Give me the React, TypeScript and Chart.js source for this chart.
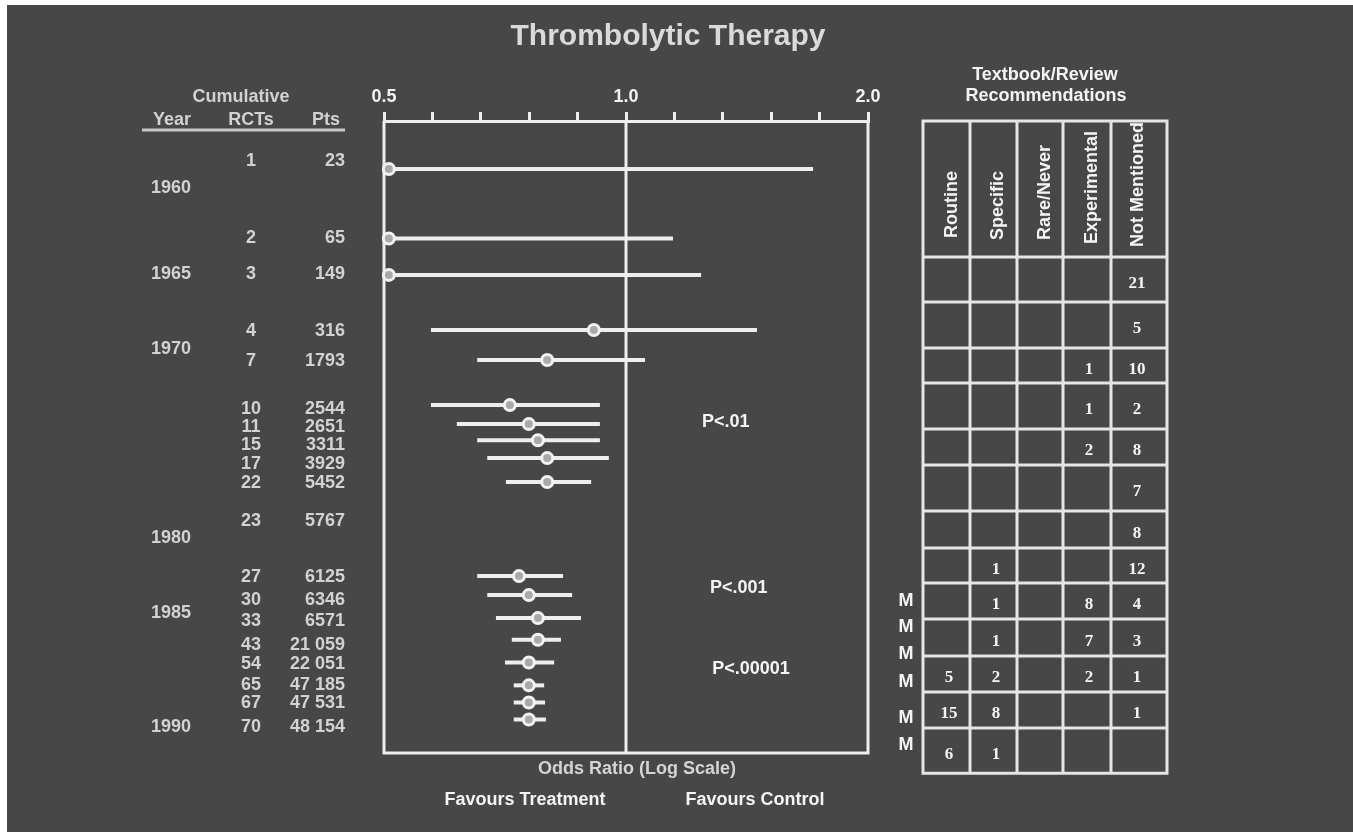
import React, { useEffect, useRef } from 'react';
import { Chart, registerables } from 'chart.js';

Chart.register(...registerables);

// ---------- data ----------
const studyRCTs = ['1', '2', '3', '4', '7', '10', '11', '15', '17', '22', '23', '27', '30', '33', '43', '54', '65', '67', '70'];
const studyPts = ['23', '65', '149', '316', '1793', '2544', '2651', '3311', '3929', '5452', '5767', '6125', '6346', '6571', '21 059', '22 051', '47 185', '47 531', '48 154'];
const textRow = [2.1, 6.16, 8.05, 11.05, 12.63, 15.16, 16.1, 17.05, 18.05, 19.05, 21.05, 24.0, 25.2, 26.3, 27.58, 28.58, 29.68, 30.63, 31.9];
const oddsRatio = [0.507, 0.507, 0.507, 0.912, 0.798, 0.717, 0.757, 0.777, 0.798, 0.798, null, 0.736, 0.757, 0.777, 0.777, 0.757, 0.757, 0.757, 0.757];
const ciLower = [0.5, 0.5, 0.5, 0.572, 0.653, 0.572, 0.616, 0.653, 0.672, 0.709, null, 0.653, 0.672, 0.689, 0.721, 0.707, 0.725, 0.725, 0.725];
const ciUpper = [1.709, 1.144, 1.24, 1.455, 1.056, 0.928, 0.928, 0.928, 0.952, 0.905, null, 0.835, 0.857, 0.879, 0.83, 0.814, 0.791, 0.793, 0.795];
const plotRow = [2.53, 6.18, 8.1, 11.0, 12.58, 14.95, 15.95, 16.8, 17.74, 19.0, null, 23.95, 24.95, 26.16, 27.3, 28.5, 29.7, 30.6, 31.5];

const yearLabels = ['1960', '1965', '1970', '1980', '1985', '1990'];
const yearRow = [3.53, 8.05, 12.0, 21.95, 25.9, 31.9];

const pLabels = ['P<.01', 'P<.001', 'P<.00001'];
const pRow = [15.84, 24.58, 28.84];
const pOdds = [1.243, 1.272, 1.28];

const axisTicks = [0.5, 0.574, 0.66, 0.758, 0.871, 1.0, 1.149, 1.32, 1.516, 1.741, 2.0];
const axisTickLabels = ['0.5', '', '', '', '', '1.0', '', '', '', '', '2.0'];

const recColumns = ['Routine', 'Specific', 'Rare/Never', 'Experimental', 'Not Mentioned'];
const recRoutine = [null, null, null, null, null, null, null, null, null, null, 5, 15, 6];
const recSpecific = [null, null, null, null, null, null, null, 1, 1, 1, 2, 8, 1];
const recRareNever = [null, null, null, null, null, null, null, null, null, null, null, null, null];
const recExperimental = [null, null, 1, 1, 2, null, null, null, 8, 7, 2, null, null];
const recNotMentioned = [21, 5, 10, 2, 8, 7, 8, 12, 4, 3, 1, 1, null];
const recRowEdges = [0, 7.16, 9.53, 11.95, 13.79, 16.21, 18.1, 20.53, 22.47, 24.32, 26.21, 28.16, 30.05, 31.95, 34.32];
const metaRow = [25.26, 26.63, 28.05, 29.53, 31.42, 32.84];

// ---------- layout / style ----------
const OX = 7;
const OY = 5;
const W = 1346;
const H = 827;
const BG = '#474747';
const LINE = '#eeeeee';
const SANS = '"Liberation Sans", Arial, Helvetica, sans-serif';
const SERIF = '"Liberation Serif", "Times New Roman", serif';
const colEdges = [923, 970, 1017, 1063, 1111, 1167];
const colHeadX = [952, 998, 1045, 1092, 1138];
const colHeadBottom = [238, 240, 240, 244, 247];
const colNumX = [949, 996, 1042, 1089, 1137];

export default function App() {
  const ref = useRef<HTMLCanvasElement>(null);

  useEffect(() => {
    const canvas = ref.current;
    if (!canvas) return;

    const pts: { x: number; y: number }[] = [];
    oddsRatio.forEach((v, i) => {
      if (v != null && plotRow[i] != null) pts.push({ x: v, y: plotRow[i] as number });
    });

    const text = (ctx: CanvasRenderingContext2D, s: string, x: number, y: number, size: number, color: string, align: CanvasTextAlign = 'center', family = SANS) => {
      ctx.font = `bold ${size}px ${family}`;
      ctx.fillStyle = color;
      ctx.textAlign = align;
      ctx.textBaseline = 'middle';
      ctx.fillText(s, x, y);
    };

    const overlay = {
      id: 'overlay',
      beforeDatasetsDraw(chart: any) {
        const { ctx, chartArea, scales } = chart;
        const xs = scales.x;
        const ys = scales.y;
        ctx.save();
        ctx.strokeStyle = LINE;
        ctx.lineWidth = 3;
        // box
        const xl = xs.getPixelForValue(0.5);
        const xr = xs.getPixelForValue(2.0);
        const x1 = xs.getPixelForValue(1.0);
        ctx.beginPath();
        ctx.moveTo(xl, chartArea.top);
        ctx.lineTo(xl, chartArea.bottom);
        ctx.lineTo(xr, chartArea.bottom);
        ctx.lineTo(xr, chartArea.top);
        ctx.moveTo(x1, chartArea.top);
        ctx.lineTo(x1, chartArea.bottom);
        ctx.stroke();
        // CI bars
        ctx.lineWidth = 4;
        oddsRatio.forEach((v, i) => {
          if (v == null) return;
          const py = ys.getPixelForValue(plotRow[i]);
          ctx.beginPath();
          ctx.moveTo(xs.getPixelForValue(ciLower[i]), py);
          ctx.lineTo(xs.getPixelForValue(ciUpper[i]), py);
          ctx.stroke();
        });
        ctx.restore();
      },
      afterDraw(chart: any) {
        const { ctx, scales } = chart;
        const xs = scales.x;
        const ys = scales.y;
        ctx.save();
        // title
        text(ctx, 'Thrombolytic Therapy', 668 - OX, 37 - OY, 30, '#dadada');
        // left table header
        const grey = '#d2d2d2';
        text(ctx, 'Cumulative', 241 - OX, 97 - OY, 18, grey);
        text(ctx, 'Year', 172 - OX, 120 - OY, 18, grey);
        text(ctx, 'RCTs', 251 - OX, 120 - OY, 18, grey);
        text(ctx, 'Pts', 326 - OX, 120 - OY, 18, grey);
        ctx.strokeStyle = '#c8c8c8';
        ctx.lineWidth = 3;
        ctx.beginPath();
        ctx.moveTo(142 - OX, 130 - OY);
        ctx.lineTo(345 - OX, 130 - OY);
        ctx.stroke();
        // left table rows
        studyRCTs.forEach((r, i) => {
          const py = ys.getPixelForValue(textRow[i]);
          text(ctx, r, 251 - OX, py, 18, grey);
          text(ctx, studyPts[i], 345 - OX, py, 18, grey, 'right');
        });
        yearLabels.forEach((yl, i) => {
          text(ctx, yl, 151 - OX, ys.getPixelForValue(yearRow[i]), 18, grey, 'left');
        });
        // p values
        pLabels.forEach((p, i) => {
          text(ctx, p, xs.getPixelForValue(pOdds[i]), ys.getPixelForValue(pRow[i]), 18, '#f4f4f4', 'left');
        });
        // bottom labels
        text(ctx, 'Odds Ratio (Log Scale)', 637 - OX, 769 - OY, 18, '#d4d4d4');
        text(ctx, 'Favours Treatment', 525 - OX, 800 - OY, 18, '#f4f4f4');
        text(ctx, 'Favours Control', 755 - OX, 800 - OY, 18, '#f4f4f4');
        // right table header
        text(ctx, 'Textbook/Review', 1045 - OX, 75 - OY, 18, '#f4f4f4');
        text(ctx, 'Recommendations', 1046 - OX, 96 - OY, 18, '#f4f4f4');
        // right table grid
        const top = ys.getPixelForValue(recRowEdges[0]);
        const bot = ys.getPixelForValue(recRowEdges[recRowEdges.length - 1]);
        ctx.strokeStyle = '#e6e6e6';
        ctx.lineWidth = 3;
        ctx.beginPath();
        colEdges.forEach((cx) => {
          ctx.moveTo(cx - OX, top);
          ctx.lineTo(cx - OX, bot);
        });
        recRowEdges.forEach((e) => {
          const py = ys.getPixelForValue(e);
          ctx.moveTo(colEdges[0] - OX - 1.5, py);
          ctx.lineTo(colEdges[colEdges.length - 1] - OX + 1.5, py);
        });
        ctx.stroke();
        // rotated headers
        recColumns.forEach((c, i) => {
          ctx.save();
          ctx.translate(colHeadX[i] - OX, colHeadBottom[i] - OY);
          ctx.rotate(-Math.PI / 2);
          text(ctx, c, 0, 0, 18, '#f4f4f4', 'left');
          ctx.restore();
        });
        // cell numbers
        const cols = [recRoutine, recSpecific, recRareNever, recExperimental, recNotMentioned];
        cols.forEach((col, ci) => {
          col.forEach((v, ri) => {
            if (v == null) return;
            const py = (ys.getPixelForValue(recRowEdges[ri + 1]) + ys.getPixelForValue(recRowEdges[ri + 2])) / 2 + 4;
            text(ctx, String(v), colNumX[ci] - OX, py, 17, '#f4f4f4', 'center', SERIF);
          });
        });
        // meta-analysis markers
        metaRow.forEach((m) => {
          text(ctx, 'M', 906 - OX, ys.getPixelForValue(m), 18, '#f4f4f4');
        });
        ctx.restore();
      },
    };

    const chart = new Chart(canvas, {
      type: 'scatter',
      data: {
        datasets: [
          {
            data: pts,
            pointRadius: 5.5,
            pointHoverRadius: 5.5,
            pointBorderWidth: 3,
            pointBackgroundColor: '#a9a9a9',
            pointBorderColor: '#f2f2f2',
            showLine: false,
            clip: false as any,
          },
        ],
      },
      options: {
        responsive: false,
        animation: false,
        devicePixelRatio: 1,
        layout: { padding: { left: 377, right: 485, top: 0, bottom: 79 } },
        plugins: { legend: { display: false }, tooltip: { enabled: false }, title: { display: false } },
        events: [],
        scales: {
          x: {
            type: 'logarithmic',
            position: 'top',
            min: 0.5,
            max: 2.0,
            afterBuildTicks: (s: any) => {
              s.ticks = axisTicks.map((v) => ({ value: v }));
            },
            afterFit: (s: any) => {
              s.height = 116;
            },
            grid: { drawOnChartArea: false, drawTicks: true, tickLength: 9, color: LINE, lineWidth: 3 },
            border: { display: true, color: LINE, width: 3 },
            ticks: {
              autoSkip: false,
              maxRotation: 0,
              padding: 4,
              color: '#f2f2f2',
              font: { family: SANS, size: 18, weight: 'bold' },
              callback: (_v: any, i: number) => axisTickLabels[i],
            },
          },
          y: { type: 'linear', display: false, min: 0, max: 33.26, reverse: true },
        },
      } as any,
      plugins: [overlay],
    });
    return () => chart.destroy();
  }, []);

  return (
    <div style={{ position: 'absolute', left: OX, top: OY, width: W, height: H, background: BG, overflow: 'hidden' }}>
      <canvas ref={ref} width={W} height={H} style={{ display: 'block', width: W, height: H }} />
    </div>
  );
}
